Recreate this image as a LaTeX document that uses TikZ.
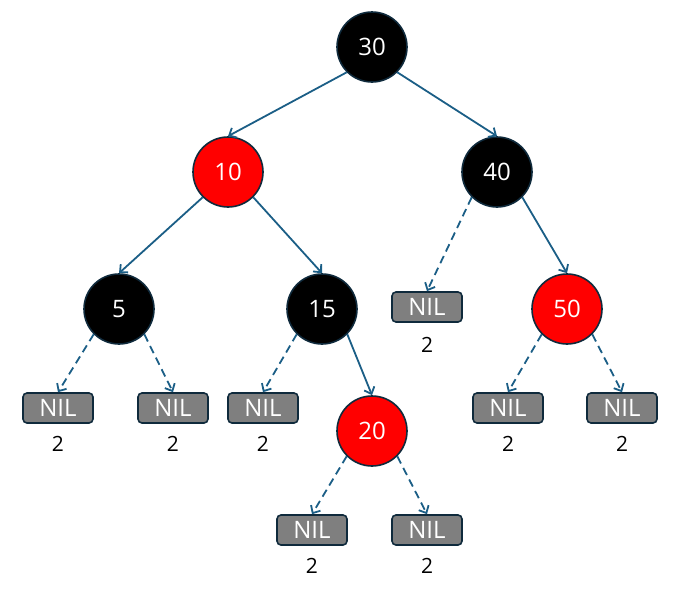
\documentclass[tikz,border=0pt]{standalone}
\usepackage{fontspec}
\setmainfont{Open Sans}
\usetikzlibrary{arrows.meta}

\definecolor{edgeblue}{HTML}{1B5E86}
\definecolor{nodeline}{HTML}{0F2A3C}
\definecolor{nilgray}{HTML}{7F7F7F}

\begin{document}
\begin{tikzpicture}[
    x=1pt, y=-1pt,
    >={Straight Barb[length=6pt,width=11pt]},
    every node/.style={font=\fontsize{21}{24}\selectfont},
    blk/.style={
        circle,
        draw=nodeline,
        line width=1.6pt,
        fill=black,
        text=white,
        minimum size=70pt,
        inner sep=0pt,
        font=\fontsize{24}{28}\selectfont
    },
    rd/.style={blk, fill=red},
    nil/.style={
        draw=nodeline,
        line width=1.6pt,
        rounded corners=4pt,
        fill=nilgray,
        text=white,
        minimum width=70pt,
        minimum height=30pt,
        inner sep=0pt,
        font=\fontsize{24}{27}\selectfont
    },
    bh/.style={font=\fontsize{21}{24}\selectfont},
    link/.style={->, draw=edgeblue, line width=1.8pt},
    nillink/.style={link, dash pattern=on 8pt off 5pt}
]
\useasboundingbox (0,0) rectangle (683,603);

%------------------------------------------------
% Tree nodes
%------------------------------------------------
\node[blk] (n30) at (372,47)  {30};

\node[rd]  (n10) at (228,172) {10};
\node[blk] (n40) at (497,172) {40};

\node[blk] (n5)  at (119,309) {5};
\node[blk] (n15) at (322,309) {15};
\node[rd]  (n50) at (567,309) {50};

\node[rd]  (n20) at (372,431) {20};

%------------------------------------------------
% NIL leaves and black heights
%------------------------------------------------
\node[nil] (nilA) at (58,408)  {NIL};
\node[nil] (nilB) at (173,408) {NIL};
\node[nil] (nilC) at (263,408) {NIL};
\node[nil] (nilD) at (427,307) {NIL};
\node[nil] (nilE) at (508,408) {NIL};
\node[nil] (nilF) at (622,408) {NIL};
\node[nil] (nilG) at (312,530) {NIL};
\node[nil] (nilH) at (427,530) {NIL};

\node[bh] (hA) at (58,444)  {2};
\node[bh] (hB) at (173,444) {2};
\node[bh] (hC) at (263,444) {2};
\node[bh] (hD) at (427,345) {2};
\node[bh] (hE) at (508,444) {2};
\node[bh] (hF) at (622,444) {2};
\node[bh] (hG) at (312,566) {2};
\node[bh] (hH) at (427,566) {2};

%------------------------------------------------
% Child links
%------------------------------------------------
\draw[link] (n30.south west) -- (n10.north);
\draw[link] (n30.south east) -- (n40.north);
\draw[link] (n10.south west) -- (n5.north);
\draw[link] (n10.south east) -- (n15.north);
\draw[link] (n40.south east) -- (n50.north);
\draw[link] (n15.south east) -- (n20.north);

% dashed links down to the NIL leaves
\draw[nillink] (n5.south west)  -- (nilA.north);
\draw[nillink] (n5.south east)  -- (nilB.north);
\draw[nillink] (n15.south west) -- (nilC.north);
\draw[nillink] (n40.south west) -- (nilD.north);
\draw[nillink] (n50.south west) -- (nilE.north);
\draw[nillink] (n50.south east) -- (nilF.north);
\draw[nillink] (n20.south west) -- (nilG.north);
\draw[nillink] (n20.south east) -- (nilH.north);

\end{tikzpicture}
\end{document}
